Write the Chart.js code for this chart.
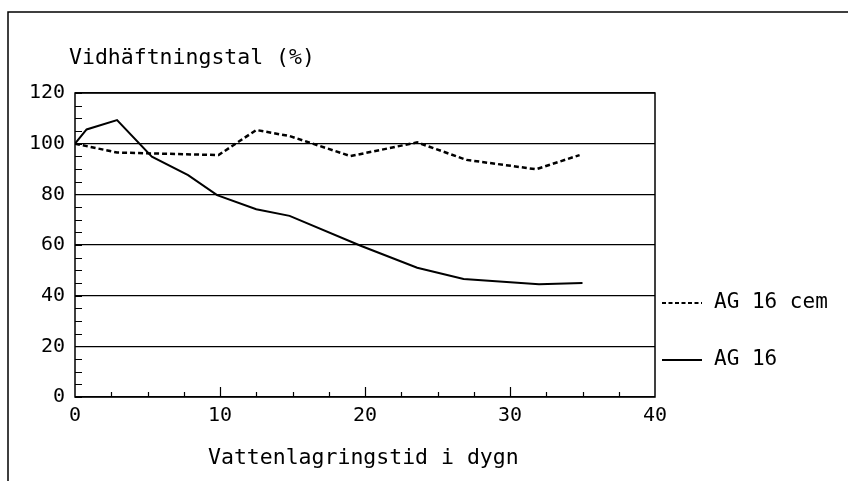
<!DOCTYPE html>
<html>
<head>
<meta charset="utf-8">
<script src="https://cdn.jsdelivr.net/npm/chart.js@4"></script>
<style>
  html, body { margin: 0; padding: 0; background: #fff; }
  #wrap { width: 848px; height: 481px; }
</style>
</head>
<body>
<div id="wrap"><canvas id="chart" width="848" height="481"></canvas></div>
<script>
// data
const seriesNames = ['AG 16 cem', 'AG 16'];
const agCemX = [0, 2.9, 9.9, 12.5, 14.8, 19, 23.6, 27, 31.8, 34.8];
const agCemY = [100, 96.5, 95.5, 105.4, 103, 95.1, 100.5, 93.6, 89.9, 95.5];
const ag16X = [0, 0.8, 2.9, 5.3, 7.8, 9.8, 12.5, 14.8, 19.7, 23.6, 26.8, 32, 35];
const ag16Y = [100, 105.6, 109.3, 94.9, 87.6, 79.7, 74.1, 71.5, 59.7, 51, 46.6, 44.5, 45];
const xTicks = [0, 10, 20, 30, 40];
const yTicks = [0, 20, 40, 60, 80, 100, 120];
const yTitle = 'Vidhäftningstal (%)';
const xTitle = 'Vattenlagringstid i dygn';

const FONT = '"DejaVu Sans Mono", monospace';

function toPoints(xs, ys) {
    return xs.map((x, i) => ({ x: x, y: ys[i] }));
}

// ramar, inåtvända tickar, titlar och legend
const extras = {
    id: 'extras',
    beforeDraw(chart) {
        const ctx = chart.ctx;
        ctx.save();
        ctx.strokeStyle = '#000';
        ctx.lineWidth = 1.5;
        ctx.beginPath();
        ctx.moveTo(8, 481);
        ctx.lineTo(8, 12);
        ctx.lineTo(848, 12);
        ctx.stroke();
        ctx.restore();
    },
    afterDraw(chart) {
        const ctx = chart.ctx;
        const a = chart.chartArea;
        const xs = chart.scales.x;
        const ys = chart.scales.y;
        ctx.save();
        ctx.strokeStyle = '#000';
        ctx.lineWidth = 1.5;
        ctx.strokeRect(a.left, a.top, a.right - a.left, a.bottom - a.top);

        // y minor ticks every 5
        ctx.lineWidth = 1.2;
        ctx.beginPath();
        for (let v = 0; v <= 120; v += 5) {
            const py = Math.round(ys.getPixelForValue(v)) + 0.5;
            ctx.moveTo(a.left, py);
            ctx.lineTo(a.left + 7, py);
        }
        // x ticks every 2.5
        for (let v = 2.5; v < 40; v += 2.5) {
            const px = Math.round(xs.getPixelForValue(v)) + 0.5;
            const len = (v % 10 === 0) ? 10 : 5;
            ctx.moveTo(px, a.bottom);
            ctx.lineTo(px, a.bottom - len);
        }
        ctx.stroke();

        ctx.fillStyle = '#000';
        ctx.textBaseline = 'middle';
        ctx.textAlign = 'left';
        ctx.font = '21.5px ' + FONT;
        ctx.fillText(yTitle, 69, 58);
        ctx.fillText(xTitle, 208, 458);

        // legend
        const legY = [303, 360];
        chart.data.datasets.forEach((ds, i) => {
            ctx.lineWidth = 2.2;
            ctx.setLineDash(i === 0 ? [4, 2.5] : []);
            ctx.beginPath();
            ctx.moveTo(662, legY[i]);
            ctx.lineTo(702, legY[i]);
            ctx.stroke();
            ctx.setLineDash([]);
            ctx.font = '21px ' + FONT;
            ctx.fillText(ds.label, 714, legY[i]);
        });
        ctx.restore();
    }
};

new Chart(document.getElementById('chart'), {
    type: 'line',
    data: {
        datasets: [{
            label: seriesNames[0],
            data: toPoints(agCemX, agCemY),
            borderColor: '#000',
            borderWidth: 2.5,
            borderDash: [5, 3],
            pointRadius: 0,
            tension: 0,
            fill: false
        }, {
            label: seriesNames[1],
            data: toPoints(ag16X, ag16Y),
            borderColor: '#000',
            borderWidth: 2,
            pointRadius: 0,
            tension: 0,
            fill: false
        }]
    },
    options: {
        responsive: false,
        animation: false,
        layout: { padding: { left: 0, right: 193, top: 93, bottom: 0 } },
        plugins: {
            legend: { display: false },
            tooltip: { enabled: false }
        },
        scales: {
            x: {
                type: 'linear',
                min: 0,
                max: 40,
                afterFit(scale) { scale.height = 84; },
                afterBuildTicks(scale) { scale.ticks = xTicks.map(v => ({ value: v })); },
                grid: { display: false, drawTicks: false },
                border: { display: false },
                ticks: {
                    color: '#000',
                    padding: 7,
                    font: { family: FONT, size: 20 },
                    maxRotation: 0
                }
            },
            y: {
                type: 'linear',
                min: 0,
                max: 120,
                afterFit(scale) { scale.width = 75; },
                afterBuildTicks(scale) { scale.ticks = yTicks.map(v => ({ value: v })); },
                grid: { color: '#000', lineWidth: 1.3, drawTicks: false },
                border: { display: false },
                ticks: {
                    color: '#000',
                    padding: 10,
                    font: { family: FONT, size: 20 }
                }
            }
        }
    },
    plugins: [extras]
});
</script>
</body>
</html>
